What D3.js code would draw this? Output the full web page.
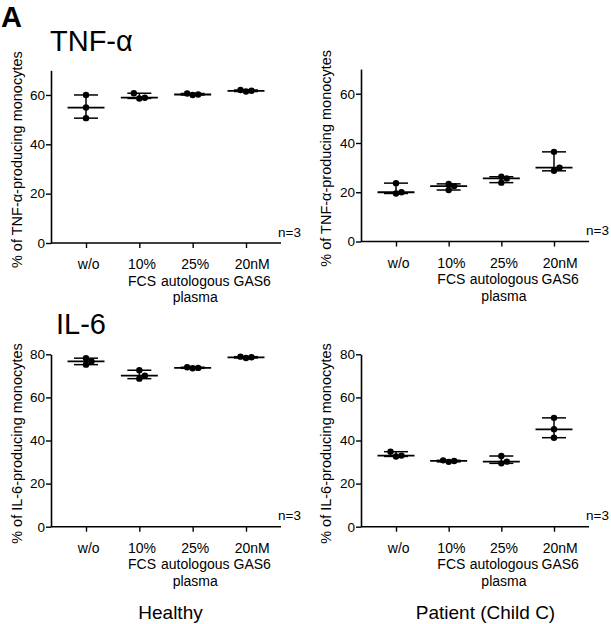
<!DOCTYPE html>
<html>
<head>
<meta charset="utf-8">
<script src="https://cdn.jsdelivr.net/npm/d3@7"></script>
<style>
  html, body { margin: 0; padding: 0; background: #fff; }
  svg { display: block; font-family: "Liberation Sans", Arial, sans-serif; }
</style>
</head>
<body>
<svg id="chart" width="611" height="624"></svg>
<script>
// ---------- data ----------
const categories = ["w/o", "10% FCS", "25% autologous plasma", "20nM GAS6"];
const categoryLines = [["w/o"], ["10%", "FCS"], ["25%", "autologous", "plasma"], ["20nM", "GAS6"]];

const tnfHealthy = [[60.0, 54.9, 50.6], [60.7, 58.9, 58.6], [60.6, 60.2, 60.0], [62.0, 61.7, 61.4]];
const tnfPatient = [[23.7, 20.0, 19.5], [23.4, 22.5, 20.9], [26.3, 25.6, 23.9], [36.4, 30.0, 28.7]];
const il6Healthy = [[78.2, 76.7, 75.2], [72.6, 70.1, 68.7], [74.0, 73.7, 73.5], [78.9, 78.6, 78.3]];
const il6Patient = [[34.8, 33.0, 32.6], [30.8, 30.5, 30.1], [32.8, 30.2, 29.4], [50.5, 45.2, 41.3]];

const tnfTicks = [0, 20, 40, 60];
const il6Ticks = [0, 20, 40, 60, 80];
const tnfMax = 70, il6Max = 80;

const tnfLabel = "% of TNF-\u03b1-producing monocytes";
const il6Label = "% of IL-6-producing monocytes";
const nLabel = "n=3";
const groupLabels = ["Healthy", "Patient (Child C)"];

// ---------- layout ----------
const svg = d3.select("#chart");

const panels = [
  { data: tnfHealthy, ticks: tnfTicks, max: tnfMax, label: tnfLabel, x0: 51, x1: 281, yZero: 243, yTop: 70.3, labX: 22 },
  { data: tnfPatient, ticks: tnfTicks, max: tnfMax, label: tnfLabel, x0: 361, x1: 589, yZero: 241.5, yTop: 69.1, labX: 331 },
  { data: il6Healthy, ticks: il6Ticks, max: il6Max, label: il6Label, x0: 51, x1: 281, yZero: 526.7, yTop: 354.3, labX: 22 },
  { data: il6Patient, ticks: il6Ticks, max: il6Max, label: il6Label, x0: 361, x1: 589, yZero: 526.7, yTop: 354.3, labX: 331 }
];
const labelShift = [2.7, 2.7, 2.6, 6.2];

const R = 3.2;

panels.forEach(p => {
  const g = svg.append("g");
  const x = d3.scalePoint().domain(categories).range([p.x0 + 35, p.x1 - 35]);
  const y = d3.scaleLinear().domain([0, p.max]).range([p.yZero, p.yTop]);

  // y axis
  const ya = g.append("g")
    .attr("transform", `translate(${p.x0},0)`)
    .call(d3.axisLeft(y).tickValues(p.ticks).tickSize(5).tickSizeOuter(0).tickPadding(1));
  ya.select(".domain").attr("stroke", "#000").attr("stroke-width", 1.6);
  ya.selectAll(".tick line").attr("stroke", "#000").attr("stroke-width", 1.4);
  ya.selectAll(".tick text").attr("font-size", 13.5).attr("font-family", "Liberation Sans, Arial, sans-serif").attr("fill", "#000");

  // x axis
  const xa = g.append("g")
    .attr("transform", `translate(0,${p.yZero})`)
    .call(d3.axisBottom(x).tickSize(5).tickSizeOuter(0).tickFormat(""));
  xa.select(".domain").attr("d", `M${p.x0},0H${p.x1}`).attr("stroke", "#000").attr("stroke-width", 1.6);
  xa.selectAll(".tick line").attr("stroke", "#000").attr("stroke-width", 1.4);

  // category labels
  categories.forEach((c, i) => {
    const t = g.append("text")
      .attr("text-anchor", "middle")
      .attr("font-size", 14)
      .attr("fill", "#000");
    categoryLines[i].forEach((ln, j) => {
      t.append("tspan")
        .attr("x", x(c) + labelShift[i])
        .attr("y", p.yZero + 26 + j * 16.6)
        .text(ln);
    });
  });

  // y label
  g.append("text")
    .attr("transform", `translate(${p.labX},${(p.yZero + p.yTop) / 2 + 3}) rotate(-90)`)
    .attr("text-anchor", "middle")
    .attr("font-size", 14.5)
    .attr("fill", "#000")
    .text(p.label);

  // n=3
  g.append("text")
    .attr("x", p.x1 + 20)
    .attr("y", p.yZero - 6.5)
    .attr("text-anchor", "end")
    .attr("font-size", 13.5)
    .attr("fill", "#000")
    .text(nLabel);

  // data: range bars, median, points
  p.data.forEach((vals, i) => {
    const cx = x(categories[i]);
    const lo = d3.min(vals), hi = d3.max(vals), med = d3.median(vals);
    g.append("line").attr("x1", cx).attr("x2", cx).attr("y1", y(lo)).attr("y2", y(hi))
      .attr("stroke", "#000").attr("stroke-width", 1.5);
    [lo, hi].forEach(v => {
      g.append("line").attr("x1", cx - 12).attr("x2", cx + 12).attr("y1", y(v)).attr("y2", y(v))
        .attr("stroke", "#000").attr("stroke-width", 1.5);
    });
    g.append("line").attr("x1", cx - 18.5).attr("x2", cx + 18.5).attr("y1", y(med)).attr("y2", y(med))
      .attr("stroke", "#000").attr("stroke-width", 1.8);

    // simple non-overlap placement of points
    const placed = [];
    const offs = [0, 5.5, -5.5, 11, -11];
    vals.slice().sort((a, b) => a - b).forEach(v => {
      const py = y(v);
      let px = cx;
      for (const o of offs) {
        const ok = placed.every(q => Math.hypot(q[0] - (cx + o), q[1] - py) >= 5.5);
        if (ok) { px = cx + o; break; }
      }
      placed.push([px, py]);
      g.append("circle").attr("cx", px).attr("cy", py).attr("r", R).attr("fill", "#000");
    });
  });
});

// titles
svg.append("text").attr("x", 1).attr("y", 26.5).attr("font-size", 29).attr("font-weight", "bold").attr("fill", "#000").text("A");
svg.append("text").attr("x", 50).attr("y", 51).attr("font-size", 29).attr("fill", "#000").text("TNF-\u03b1");
svg.append("text").attr("x", 56).attr("y", 334).attr("font-size", 29).attr("fill", "#000").text("IL-6");

// group labels
svg.append("text").attr("x", 170.5).attr("y", 619).attr("text-anchor", "middle").attr("font-size", 19).attr("fill", "#000").text(groupLabels[0]);
svg.append("text").attr("x", 485.5).attr("y", 619).attr("text-anchor", "middle").attr("font-size", 19).attr("fill", "#000").text(groupLabels[1]);
</script>
</body>
</html>
